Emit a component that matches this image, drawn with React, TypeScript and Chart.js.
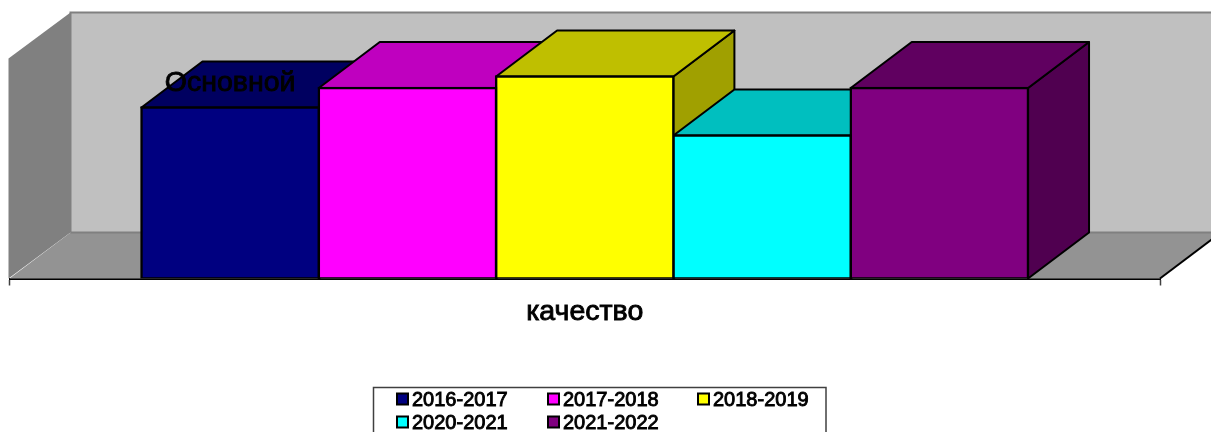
import React, { useEffect, useRef } from "react";
import { Chart, registerables } from "chart.js";

Chart.register(...registerables);

const categories = ["качество"];
const seriesLabels = ["2016-2017", "2017-2018", "2018-2019", "2020-2021", "2021-2022"];
const seriesValues = [77.7, 86.6, 91.8, 65, 86.6];
const seriesColors = ["#000080", "#ff00ff", "#ffff00", "#00ffff", "#800080"];
const topColors = ["#000060", "#bf00bf", "#bfbf00", "#00bfbf", "#600060"];
const sideColors = ["#000050", "#a000a0", "#a0a000", "#00a0a0", "#500050"];
const barNote = "Основной";

const FONT = '"Liberation Sans", Arial, sans-serif';
const DX = 61;
const DY = -46;

function poly(ctx: CanvasRenderingContext2D, pts: number[][], fill: string, stroke?: string, lw = 2) {
  ctx.beginPath();
  pts.forEach((p, i) => (i ? ctx.lineTo(p[0], p[1]) : ctx.moveTo(p[0], p[1])));
  ctx.closePath();
  ctx.fillStyle = fill;
  ctx.fill();
  if (stroke) {
    ctx.strokeStyle = stroke;
    ctx.lineWidth = lw;
    ctx.lineJoin = "round";
    ctx.stroke();
  }
}

const walls3d = {
  id: "walls3d",
  beforeDatasetsDraw(chart: any) {
    const { ctx, chartArea: a } = chart;
    const { left: l, right: r, top: t, bottom: b } = a;
    ctx.save();
    poly(ctx, [[l + DX, t + DY], [r + DX, t + DY], [r + DX, b + DY], [l + DX, b + DY]], "#c0c0c0");
    poly(ctx, [[l - 1, t], [l + DX, t + DY], [l + DX, b + DY], [l - 1, b]], "#808080");
    poly(ctx, [[l, b], [l + DX, b + DY], [r + DX, b + DY], [r, b]], "#939393");
    ctx.strokeStyle = "#808080";
    ctx.lineWidth = 2;
    ctx.beginPath();
    ctx.moveTo(l + DX, b + DY);
    ctx.lineTo(l + DX, t + DY);
    ctx.lineTo(r + DX, t + DY);
    ctx.moveTo(l + DX, b + DY);
    ctx.lineTo(r + DX, b + DY);
    ctx.stroke();
    ctx.strokeStyle = "#000";
    ctx.beginPath();
    ctx.moveTo(r, b);
    ctx.lineTo(r + DX, b + DY);
    ctx.stroke();
    chart.data.datasets.forEach((_: any, i: number) => {
      const bar = chart.getDatasetMeta(i).data[0];
      const hw = bar.width / 2;
      const x0 = bar.x - hw;
      const x1 = bar.x + hw;
      const y = bar.y;
      poly(ctx, [[x1, y], [x1 + DX, y + DY], [x1 + DX, b + DY], [x1, b]], sideColors[i], "#000");
      poly(ctx, [[x0, y], [x1, y], [x1 + DX, y + DY], [x0 + DX, y + DY]], topColors[i], "#000");
    });
    ctx.restore();
  },
};

const noteAndLegend = {
  id: "noteAndLegend",
  afterDatasetsDraw(chart: any) {
    const { ctx } = chart;
    ctx.save();
    const first = chart.getDatasetMeta(0).data[0];
    ctx.font = `28.5px ${FONT}`;
    ctx.textAlign = "center";
    ctx.textBaseline = "middle";
    ctx.fillStyle = "#000";
    ctx.strokeStyle = "#000";
    ctx.lineWidth = 0.9;
    ctx.fillText(barNote, first.x, first.y - 24.5);
    ctx.strokeText(barNote, first.x, first.y - 24.5);

    ctx.strokeStyle = "#404040";
    ctx.lineWidth = 1.5;
    ctx.strokeRect(373.5, 387.5, 452.5, 60);

    ctx.font = `20px ${FONT}`;
    ctx.textAlign = "left";
    const columns = [397, 548, 698];
    const rows = [399, 422];
    chart.data.datasets.forEach((ds: any, i: number) => {
      const cx = columns[i % 3];
      const cy = rows[Math.floor(i / 3)];
      ctx.fillStyle = ds.backgroundColor;
      ctx.fillRect(cx, cy - 5.5, 11, 11);
      ctx.strokeStyle = "#000";
      ctx.lineWidth = 2;
      ctx.strokeRect(cx, cy - 5.5, 11, 11);
      ctx.fillStyle = "#000";
      ctx.strokeStyle = "#000";
      ctx.lineWidth = 0.9;
      ctx.fillText(ds.label, cx + 15, cy + 1);
      ctx.strokeText(ds.label, cx + 15, cy + 1);
    });
    ctx.restore();
  },
};

export default function App() {
  const ref = useRef<HTMLCanvasElement>(null);
  useEffect(() => {
    const chart = new Chart(ref.current as HTMLCanvasElement, {
      type: "bar",
      data: {
        labels: categories,
        datasets: seriesLabels.map((label, i) => ({
          label,
          data: [seriesValues[i]],
          backgroundColor: seriesColors[i],
          borderColor: "#000",
          borderWidth: 2.5,
          borderSkipped: false,
          inflateAmount: 1.25,
          categoryPercentage: 0.7706,
          barPercentage: 1,
        })),
      },
      options: {
        responsive: false,
        animation: false,
        layout: { padding: { left: 9.5, right: 51, top: 58.5, bottom: 0 } },
        plugins: { legend: { display: false }, tooltip: { enabled: false }, title: { display: false } },
        scales: {
          x: {
            offset: true,
            afterFit(scale: any) {
              scale.height = 153.5;
            },
            grid: { offset: true, drawOnChartArea: false, drawTicks: true, tickLength: 7, tickColor: "#404040", tickWidth: 1.5 },
            border: { display: true, color: "#000", width: 2 },
            ticks: {
              color: "#000",
              padding: 10,
              maxRotation: 0,
              font: { family: FONT, size: 28.5 },
              textStrokeColor: "#000",
              textStrokeWidth: 0.9,
            },
          },
          y: { display: false, min: 0, max: 100 },
        },
      },
      plugins: [walls3d, noteAndLegend],
    } as any);
    return () => chart.destroy();
  }, []);
  return (
    <canvas
      ref={ref}
      width={1211}
      height={432}
      style={{ position: "fixed", left: 0, top: 0, width: 1211, height: 432, background: "#fff" }}
    />
  );
}
